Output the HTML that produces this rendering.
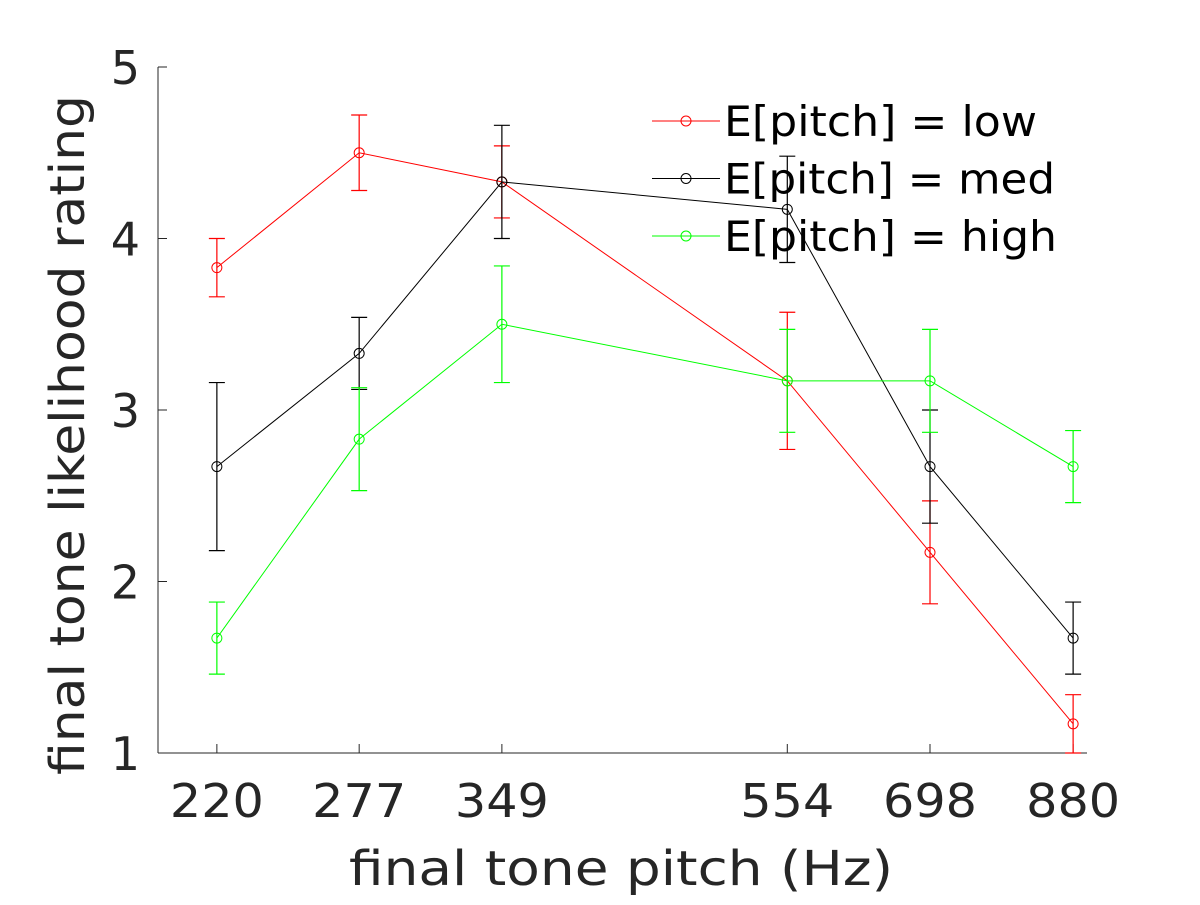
<!DOCTYPE html>
<html><head><meta charset="utf-8"><style>
body{margin:0;background:#fff}
svg text{font-family:"DejaVu Sans","Liberation Sans",sans-serif;fill:#262626}
</style></head><body>
<svg id="chart" width="1200" height="900" xmlns="http://www.w3.org/2000/svg">
<g id="axes"></g>
<g id="series"></g>
<g id="legend"></g>
</svg>
<script>
const categories=[220,277,349,554,698,880];
const yTicks=[1,2,3,4,5];
const seriesNames=["E[pitch] = low","E[pitch] = med","E[pitch] = high"];
const seriesColors=["#ff0000","#000000","#00ff00"];
const lowVals=[3.83,4.5,4.33,3.17,2.17,1.17];
const lowErr=[0.17,0.22,0.21,0.4,0.3,0.17];
const medVals=[2.67,3.33,4.33,4.17,2.67,1.67];
const medErr=[0.49,0.21,0.33,0.31,0.33,0.21];
const highVals=[1.67,2.83,3.5,3.17,3.17,2.67];
const highErr=[0.21,0.3,0.34,0.3,0.3,0.21];
const vals=[lowVals,medVals,highVals], errs=[lowErr,medErr,highErr];
const NS="http://www.w3.org/2000/svg";
const L=158,R=1087,T=67,B=753,xmin=200,xmax=900,ymin=1,ymax=5;
const X=v=>L+(Math.log(v/xmin)/Math.log(xmax/xmin))*(R-L);
const Y=v=>B-(v-ymin)/(ymax-ymin)*(B-T);
function mk(tag,attrs,parent){const e=document.createElementNS(NS,tag);for(const k in attrs)e.setAttribute(k,attrs[k]);parent.appendChild(e);return e;}
const ax=document.getElementById('axes');
let l=mk('line',{x1:L,y1:B,x2:R,y2:B,stroke:'#262626','stroke-width':1},ax);


l=mk('line',{x1:L,y1:T,x2:L,y2:B,stroke:'#262626','stroke-width':1},ax);


categories.forEach(c=>{
 const x=X(c);
 const t=mk('line',{x1:x,y1:B,x2:x,y2:B-9,stroke:'#262626'},ax);
 
 
 const tx=mk('text',{x:x,y:817,'text-anchor':'middle','font-size':46,textLength:94,lengthAdjust:'spacingAndGlyphs'},ax);tx.textContent=c;
 
 
});
yTicks.forEach(v=>{
 const y=Y(v);
 const t=mk('line',{x1:L,y1:y,x2:L+9,y2:y,stroke:'#262626'},ax);
 
 
 const tx=mk('text',{x:140,y:y+17,'text-anchor':'end','font-size':46},ax);tx.textContent=v;
 
 
});
let xl=mk('text',{x:621,y:885,'text-anchor':'middle','font-size':48,textLength:544,lengthAdjust:'spacingAndGlyphs'},ax);xl.textContent='final tone pitch (Hz)';


let yl=mk('text',{x:0,y:0,'text-anchor':'middle','font-size':48,textLength:680,lengthAdjust:'spacingAndGlyphs',transform:'translate(84,435) rotate(-90)'},ax);yl.textContent='final tone likelihood rating';


const sg=document.getElementById('series');
vals.forEach((vs,si)=>{
 const col=seriesColors[si];
 const g=mk('g',{},sg);
 
 
 const pts=vs.map((v,i)=>X(categories[i])+','+Y(v)).join(' ');
 const pl=mk('polyline',{points:pts,fill:'none',stroke:col,'stroke-width':1},g);
 
 
 vs.forEach((v,i)=>{
  const x=X(categories[i]),e=errs[si][i],y1=Y(v+e),y2=Y(v-e);
  const eb=mk('path',{d:`M${x},${y1}V${y2}M${x-8},${y1}H${x+8}M${x-8},${y2}H${x+8}`,stroke:col,fill:'none','stroke-width':1.2},g);
  
  
  const c=mk('circle',{cx:x,cy:Y(v),r:5,fill:'none',stroke:col},g);
  
  
 });
});
const lg=document.getElementById('legend');
const legW=[313,331,333];
seriesNames.forEach((n,i)=>{
 const y=121+i*57.5;
 const g=mk('g',{},lg);
 
 
 mk('line',{x1:652,y1:y,x2:720,y2:y,stroke:seriesColors[i]},g);
 mk('circle',{cx:686,cy:y,r:5,fill:'none',stroke:seriesColors[i]},g);
 const t=mk('text',{x:724,y:y+15,'font-size':42,textLength:legW[i],lengthAdjust:'spacingAndGlyphs'},g);t.textContent=n;
 t.style.fill='#000';
});
</script>
</body></html>
